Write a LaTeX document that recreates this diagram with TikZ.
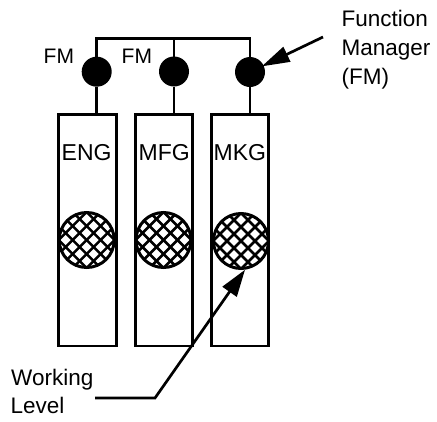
\documentclass[tikz,border=0pt]{standalone}
\usepackage{fontspec}
\setmainfont{Liberation Sans}
\usetikzlibrary{arrows.meta}
\begin{document}
\begin{tikzpicture}[x=1pt,y=-1pt,
  wire/.style={line width=2.7pt},
  unitbox/.style={draw, line width=2.6pt, rectangle, minimum width=57.5pt, minimum height=231.5pt, inner sep=0pt},
  fmdot/.style={circle, fill=black, minimum size=30pt, inner sep=0pt, outer sep=0pt},
  hatched/.style={circle, draw, line width=3pt, minimum size=55pt, inner sep=0pt,
    path picture={
      \foreach \d in {-84,-70,...,84} {
        \draw[line width=2.5pt] ([xshift=\d pt]path picture bounding box.center) ++(-40pt,-40pt) -- ++(80pt,80pt);
        \draw[line width=2.5pt] ([xshift=\d pt]path picture bounding box.center) ++(-40pt,40pt) -- ++(80pt,-80pt);
      }
    }},
  fmlbl/.style={font=\fontsize{21}{25}\selectfont, inner sep=0pt, anchor=base west},
  boxlbl/.style={font=\fontsize{23}{28}\selectfont, inner sep=0pt, anchor=base west},
  calllbl/.style={font=\fontsize{22.5}{27}\selectfont, inner sep=0pt, anchor=base west},
  pointer/.style={line width=2.7pt}
]
\useasboundingbox (0,0) rectangle (437,421);

% unit boxes
\node[unitbox] (b1) at (87.5,230.25) {};
\node[unitbox] (b2) at (164,230.25) {};
\node[unitbox] (b3) at (240,230.25) {};

% hatched working-level circles
\node[hatched] (h1) at (86.7,240) {};
\node[hatched] (h2) at (163.5,240) {};
\node[hatched] (h3) at (241,241) {};

% function manager dots
\node[fmdot] (fm1) at (96.7,71.7) {};
\node[fmdot] (fm2) at (174,71.5) {};
\node[fmdot] (fm3) at (250,72) {};

% bus
\coordinate (bus) at (0,38.3);
\draw[wire] (fm1) -- (fm1 |- bus) -- (fm3 |- bus) -- (fm3);
\draw[wire] (fm2) -- (fm2 |- bus);
\draw[wire] (fm1) -- (fm1 |- b1.north);
\draw[wire] (fm2) -- (fm2 |- b2.north);
\draw[wire] (fm3) -- (fm3 |- b3.north);

% labels
\node[fmlbl] (fmA) at (43.5,63.3) {FM};
\node[fmlbl] (fmB) at (121.5,63.3) {FM};
\node[boxlbl] (eng) at (61.5,160) {ENG};
\node[boxlbl] (mfg) at (138.5,160) {MFG};
\node[boxlbl] (mkg) at (213.5,160) {MKG};

\node[calllbl] (func) at (341.5,26) {Function};
\node[calllbl] (mgr) at (341.5,55) {Manager};
\node[calllbl] (fmC) at (341.5,84) {(FM)};

\node[calllbl] (work) at (11,385) {Working};
\node[calllbl] (lev) at (10.5,413) {Level};

% pointers
\coordinate (fmtail) at (323,37);
\draw[pointer, -{Triangle[length=28pt,width=16pt]}, shorten >=-2pt] (fmtail) -- (fm3);

\coordinate (wlstart) at (95,398);
\coordinate (wlbend) at (155,398);
\draw[pointer, -{Triangle[length=27pt,width=17pt]}] (wlstart) -- (wlbend) -- (h3.-82);
\end{tikzpicture}
\end{document}
